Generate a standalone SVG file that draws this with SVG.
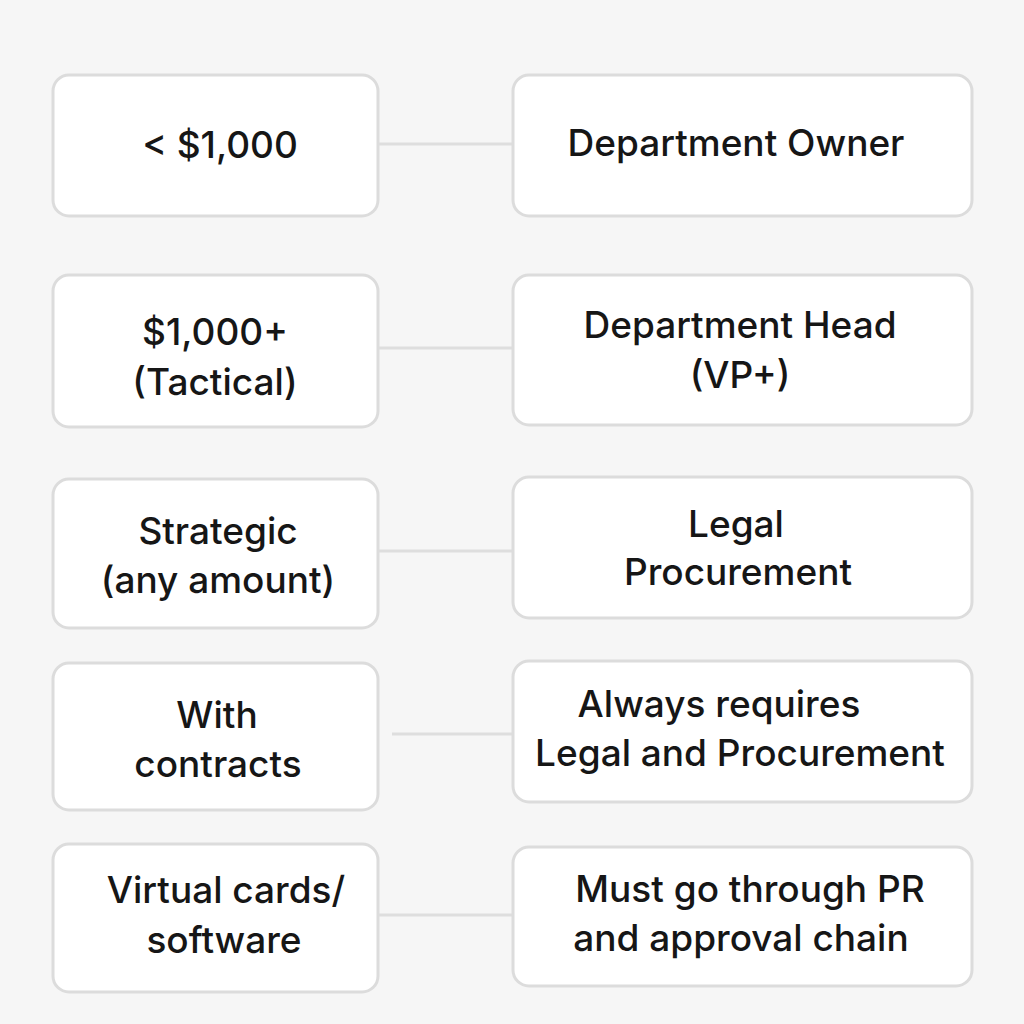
<svg xmlns="http://www.w3.org/2000/svg" width="1024" height="1024" viewBox="0 0 1024 1024">
<style>
.box{fill:#ffffff;stroke:#dcdcdc;stroke-width:3}
.conn{stroke:#dedede;stroke-width:3;fill:none}
text{font-family:Inter,"Noto Sans","Liberation Sans",sans-serif;font-size:37px;font-weight:500;fill:#161616;text-anchor:middle}
</style>
<rect width="1024" height="1024" fill="#f6f6f6"/>
<g id="connectors">
<line class="conn" x1="378" y1="144" x2="513" y2="144"/>
<line class="conn" x1="378" y1="348" x2="513" y2="348"/>
<line class="conn" x1="378" y1="551" x2="513" y2="551"/>
<line class="conn" x1="392" y1="734" x2="513" y2="734"/>
<line class="conn" x1="378" y1="915" x2="513" y2="915"/>
</g>
<g id="n1l"><rect class="box" x="53" y="75" width="325" height="141" rx="16"/><text x="220" y="158">&lt; $1,000</text></g>
<g id="n1r"><rect class="box" x="513" y="75" width="459" height="141" rx="16"/><text x="736" y="156">Department Owner</text></g>
<g id="n2l"><rect class="box" x="53" y="275" width="325" height="152" rx="16"/><text x="215" y="345">$1,000+</text><text x="215" y="395">(Tactical)</text></g>
<g id="n2r"><rect class="box" x="513" y="275" width="459" height="150" rx="16"/><text x="740" y="338">Department Head</text><text x="740" y="388">(VP+)</text></g>
<g id="n3l"><rect class="box" x="53" y="479" width="325" height="149" rx="16"/><text x="218" y="544">Strategic</text><text x="218" y="593">(any amount)</text></g>
<g id="n3r"><rect class="box" x="513" y="477" width="459" height="141" rx="16"/><text x="736" y="537">Legal</text><text x="738" y="585">Procurement</text></g>
<g id="n4l"><rect class="box" x="53" y="663" width="325" height="147" rx="16"/><text x="217" y="728">With</text><text x="218" y="777">contracts</text></g>
<g id="n4r"><rect class="box" x="513" y="661" width="459" height="141" rx="16"/><text x="719" y="717">Always requires</text><text x="740" y="766">Legal and Procurement</text></g>
<g id="n5l"><rect class="box" x="53" y="844" width="325" height="148" rx="16"/><text x="226" y="903">Virtual cards/</text><text x="224" y="953">software</text></g>
<g id="n5r"><rect class="box" x="513" y="847" width="459" height="139" rx="16"/><text x="750" y="902">Must go through PR</text><text x="741" y="951">and approval chain</text></g>
</svg>
